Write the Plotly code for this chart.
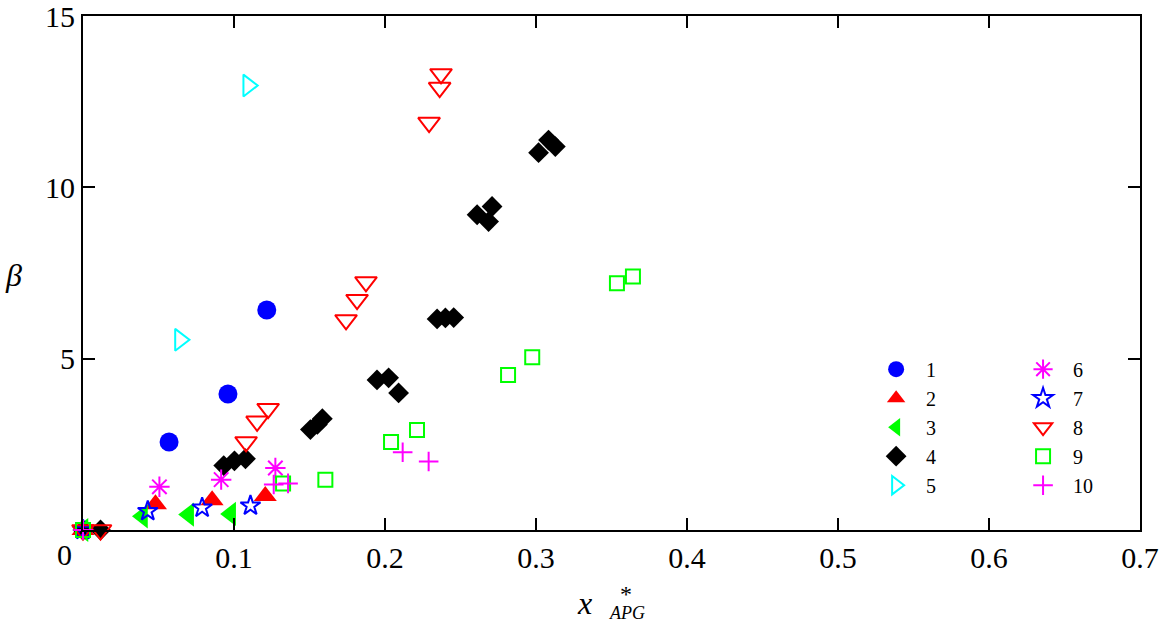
import plotly.graph_objects as go

# ---- data ----
s1_x = [0.057, 0.096, 0.1217]
s1_y = [2.57, 3.97, 6.42]

s2_x = [0.0, 0.048, 0.0855, 0.1207]
s2_y = [0.0, 0.75, 0.87, 0.99]

s3_x = [0.0, 0.0394, 0.070, 0.0978]
s3_y = [0.0, 0.40, 0.45, 0.47]

s4_x = [0.0, 0.0116, 0.0932, 0.1003, 0.1076, 0.1506, 0.1552, 0.1585,
        0.1947, 0.2024, 0.2090, 0.2345, 0.2400, 0.2455,
        0.2610, 0.2709, 0.2686, 0.3017, 0.3083, 0.3128]
s4_y = [0.0, 0.0, 1.88, 2.02, 2.08, 2.93, 3.08, 3.25,
        4.38, 4.44, 4.00, 6.16, 6.19, 6.20,
        9.20, 9.44, 9.00, 11.01, 11.38, 11.19]

s5_x = [0.0642, 0.1094]
s5_y = [5.55, 12.97]

s6_x = [0.0506, 0.0915, 0.1274]
s6_y = [1.26, 1.47, 1.81]

s7_x = [0.0, 0.0429, 0.0789, 0.1109]
s7_y = [0.0, 0.55, 0.65, 0.71]

s8_x = [0.0, 0.0116, 0.108, 0.1153, 0.1226, 0.1742, 0.1815, 0.1874,
        0.2292, 0.2362, 0.2371]
s8_y = [0.0, 0.0, 2.57, 3.17, 3.54, 6.13, 6.72, 7.24,
        11.89, 12.91, 13.31]

s9_x = [0.0, 0.1325, 0.1605, 0.204, 0.2212, 0.2815, 0.2975, 0.3536, 0.3642]
s9_y = [0.0, 1.36, 1.47, 2.57, 2.92, 4.52, 5.04, 7.20, 7.40]

s10_x = [0.0, 0.1263, 0.1358, 0.2117, 0.2289]
s10_y = [0.0, 1.33, 1.36, 2.27, 2.00]

names = ["1", "2", "3", "4", "5", "6", "7", "8", "9", "10"]
xs = [s1_x, s2_x, s3_x, s4_x, s5_x, s6_x, s7_x, s8_x, s9_x, s10_x]
ys = [s1_y, s2_y, s3_y, s4_y, s5_y, s6_y, s7_y, s8_y, s9_y, s10_y]

x_ticks = [0.1, 0.2, 0.3, 0.4, 0.5, 0.6, 0.7]
x_ticktext = ["0.1", "0.2", "0.3", "0.4", "0.5", "0.6", "0.7"]
y_ticks = [5, 10, 15]
y_ticktext = ["5", "10", "15"]

# ---- styles ----
BLUE, RED, GREEN, CYAN, MAG = "#0000ff", "#ff0000", "#00ff00", "#00ffff", "#ff00ff"
styles = [
    dict(symbol="circle", size=19, color=BLUE, line=dict(width=0)),
    dict(symbol="triangle-up", size=20, color=RED, line=dict(width=0)),
    dict(symbol="triangle-left", size=21, color=GREEN, line=dict(width=0)),
    dict(symbol="diamond", size=16, color="black", line=dict(width=0)),
    dict(symbol="triangle-right-open", size=19, color=CYAN, line=dict(width=2, color=CYAN)),
    dict(symbol="asterisk-open", size=17, color=MAG, line=dict(width=2, color=MAG)),
    dict(symbol="star-open", size=15, color=BLUE, line=dict(width=2, color=BLUE)),
    dict(symbol="triangle-down-open", size=19, color=RED, line=dict(width=2, color=RED)),
    dict(symbol="square-open", size=14, color=GREEN, line=dict(width=2, color=GREEN)),
    dict(symbol="cross-thin-open", size=14, color=MAG, line=dict(width=2, color=MAG)),
]

FONT = "Liberation Serif, Times New Roman, serif"
W, H = 1161, 626
L, R, T, B = 82.5, 1140, 16, 530.5
PW, PH = R - L, B - T


def px(xp):
    return (xp - L) / PW


def py(yp):
    return (B - yp) / PH


fig = go.Figure()
for i in range(10):
    fig.add_trace(go.Scatter(
        x=xs[i], y=ys[i], mode="markers", name="\u00a0\u00a0" + names[i],
        marker=styles[i], legend="legend" if i < 5 else "legend2",
        cliponaxis=False,
    ))

axis_common = dict(
    showline=True, linewidth=2, linecolor="black", mirror="ticks",
    ticks="inside", ticklen=12, tickwidth=2, tickcolor="black",
    showgrid=False, zeroline=False, ticklabeloverflow="allow",
    tickfont=dict(family=FONT, size=30, color="black"),
)

fig.update_layout(
    width=W, height=H,
    margin=dict(l=L, r=W - R, t=T, b=H - B, autoexpand=False),
    paper_bgcolor="white", plot_bgcolor="white",
    font=dict(family=FONT, color="black"),
    xaxis=dict(range=[0, 0.7], tickvals=x_ticks, ticktext=x_ticktext, **axis_common),
    yaxis=dict(range=[0, 15], tickvals=y_ticks, ticktext=y_ticktext, **axis_common),
    legend=dict(x=px(876), y=py(350), xanchor="left", yanchor="top",
                font=dict(family=FONT, size=20, color="black"),
                bgcolor="rgba(0,0,0,0)", borderwidth=0, tracegroupgap=0),
    legend2=dict(x=px(1023), y=py(350), xanchor="left", yanchor="top",
                 font=dict(family=FONT, size=20, color="black"),
                 bgcolor="rgba(0,0,0,0)", borderwidth=0, tracegroupgap=0),
    showlegend=True,
)

ann = [
    dict(text="0", x=px(64), y=py(555), size=30),
    dict(text="<i>β</i>", x=px(13), y=py(275), size=32),
    dict(text="<i>x</i>", x=px(584), y=py(604), size=32),
    dict(text="*", x=px(626), y=py(595), size=24),
    dict(text="<i>APG</i>", x=px(627), y=py(614), size=18),
]
for a in ann:
    fig.add_annotation(text=a["text"], x=a["x"], y=a["y"], xref="paper", yref="paper",
                       xanchor="center", yanchor="middle", showarrow=False,
                       font=dict(family=FONT, size=a["size"], color="black"))

fig.write_html("out.html")
